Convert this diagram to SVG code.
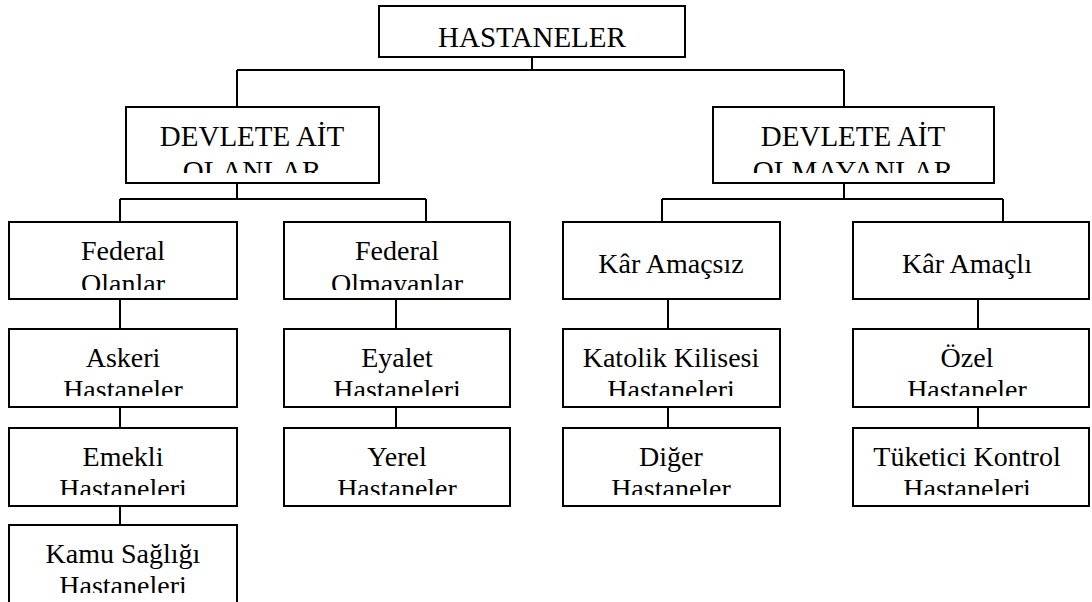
<svg xmlns="http://www.w3.org/2000/svg" width="1092" height="602" viewBox="0 0 1092 602">
<style>
.box{fill:#fff;stroke:#000;stroke-width:2}
.ln{fill:none;stroke:#000;stroke-width:2}
</style>
<defs>
<clipPath id="c0" clipPathUnits="userSpaceOnUse"><rect x="379" y="6" width="306" height="51"/></clipPath>
<clipPath id="c1" clipPathUnits="userSpaceOnUse"><rect x="126" y="107" width="253" height="66"/></clipPath>
<clipPath id="c2" clipPathUnits="userSpaceOnUse"><rect x="713" y="107" width="281" height="66"/></clipPath>
<clipPath id="r3a" clipPathUnits="userSpaceOnUse"><rect x="0" y="222" width="1092" height="68"/></clipPath>
<clipPath id="r4a" clipPathUnits="userSpaceOnUse"><rect x="0" y="329" width="1092" height="67"/></clipPath>
<clipPath id="r5a" clipPathUnits="userSpaceOnUse"><rect x="0" y="428" width="1092" height="67"/></clipPath>
<clipPath id="r6a" clipPathUnits="userSpaceOnUse"><rect x="0" y="525" width="1092" height="68"/></clipPath>
</defs>
<g id="connectors">
<path class="ln" d="M532 57V70M237 70H844M237 70V107M844 70V107"/>
<path class="ln" d="M237 183V199M120 199H426M120 199V222M426 199V222"/>
<path class="ln" d="M844 183V199M662 199H1003M662 199V222M1003 199V222"/>
<path class="ln" d="M120 299V329M120 407V428M120 502V525"/>
<path class="ln" d="M396 299V329M396 407V428"/>
<path class="ln" d="M668 299V329M668 407V428"/>
<path class="ln" d="M978 299V329M978 407V428"/>
</g>
<g id="n-hastaneler">
<rect class="box" x="379" y="6" width="306" height="51"/>
<text style="font-family:'Liberation Serif',serif;font-size:29px" text-anchor="middle" x="532" y="47" clip-path="url(#c0)">HASTANELER</text>
</g>
<g id="n-devlete-ait-olanlar">
<rect class="box" x="126" y="107" width="253" height="76"/>
<text style="font-family:'Liberation Serif',serif;font-size:29px" text-anchor="middle" x="252" y="146" clip-path="url(#c1)">DEVLETE AİT</text>
<text style="font-family:'Liberation Serif',serif;font-size:29px" text-anchor="middle" x="252" y="181" clip-path="url(#c1)">OLANLAR</text>
</g>
<g id="n-devlete-ait-olmayanlar">
<rect class="box" x="713" y="107" width="281" height="76"/>
<text style="font-family:'Liberation Serif',serif;font-size:29px" text-anchor="middle" x="853" y="146" clip-path="url(#c2)">DEVLETE AİT</text>
<text style="font-family:'Liberation Serif',serif;font-size:29px" text-anchor="middle" x="853" y="181" clip-path="url(#c2)">OLMAYANLAR</text>
</g>
<g id="n-federal-olanlar">
<rect class="box" x="9" y="222" width="228" height="77"/>
<text style="font-family:'Liberation Serif',serif;font-size:28px" text-anchor="middle" x="123" y="260" clip-path="url(#r3a)">Federal</text>
<text style="font-family:'Liberation Serif',serif;font-size:28px" text-anchor="middle" x="123" y="293" clip-path="url(#r3a)">Olanlar</text>
</g>
<g id="n-federal-olmayanlar">
<rect class="box" x="284" y="222" width="226" height="77"/>
<text style="font-family:'Liberation Serif',serif;font-size:28px" text-anchor="middle" x="397" y="260" clip-path="url(#r3a)">Federal</text>
<text style="font-family:'Liberation Serif',serif;font-size:28px" text-anchor="middle" x="397" y="293" clip-path="url(#r3a)">Olmayanlar</text>
</g>
<g id="n-kar-amacsiz">
<rect class="box" x="563" y="222" width="217" height="77"/>
<text style="font-family:'Liberation Serif',serif;font-size:28px" text-anchor="middle" x="671" y="273" clip-path="url(#r3a)">Kâr Amaçsız</text>
</g>
<g id="n-kar-amacli">
<rect class="box" x="853" y="222" width="236" height="77"/>
<text style="font-family:'Liberation Serif',serif;font-size:28px" text-anchor="middle" x="967" y="273" clip-path="url(#r3a)">Kâr Amaçlı</text>
</g>
<g id="n-askeri">
<rect class="box" x="9" y="329" width="228" height="78"/>
<text style="font-family:'Liberation Serif',serif;font-size:28px" text-anchor="middle" x="123" y="367" clip-path="url(#r4a)">Askeri</text>
<text style="font-family:'Liberation Serif',serif;font-size:28px" text-anchor="middle" x="123" y="399" clip-path="url(#r4a)">Hastaneler</text>
</g>
<g id="n-eyalet">
<rect class="box" x="284" y="329" width="226" height="78"/>
<text style="font-family:'Liberation Serif',serif;font-size:28px" text-anchor="middle" x="397" y="367" clip-path="url(#r4a)">Eyalet</text>
<text style="font-family:'Liberation Serif',serif;font-size:28px" text-anchor="middle" x="397" y="399" clip-path="url(#r4a)">Hastaneleri</text>
</g>
<g id="n-katolik">
<rect class="box" x="563" y="329" width="217" height="78"/>
<text style="font-family:'Liberation Serif',serif;font-size:28px" text-anchor="middle" x="671" y="367" clip-path="url(#r4a)">Katolik Kilisesi</text>
<text style="font-family:'Liberation Serif',serif;font-size:28px" text-anchor="middle" x="671" y="399" clip-path="url(#r4a)">Hastaneleri</text>
</g>
<g id="n-ozel">
<rect class="box" x="853" y="329" width="236" height="78"/>
<text style="font-family:'Liberation Serif',serif;font-size:28px" text-anchor="middle" x="967" y="367" clip-path="url(#r4a)">Özel</text>
<text style="font-family:'Liberation Serif',serif;font-size:28px" text-anchor="middle" x="967" y="399" clip-path="url(#r4a)">Hastaneler</text>
</g>
<g id="n-emekli">
<rect class="box" x="9" y="428" width="228" height="78"/>
<text style="font-family:'Liberation Serif',serif;font-size:28px" text-anchor="middle" x="123" y="466" clip-path="url(#r5a)">Emekli</text>
<text style="font-family:'Liberation Serif',serif;font-size:28px" text-anchor="middle" x="123" y="498" clip-path="url(#r5a)">Hastaneleri</text>
</g>
<g id="n-yerel">
<rect class="box" x="284" y="428" width="226" height="78"/>
<text style="font-family:'Liberation Serif',serif;font-size:28px" text-anchor="middle" x="397" y="466" clip-path="url(#r5a)">Yerel</text>
<text style="font-family:'Liberation Serif',serif;font-size:28px" text-anchor="middle" x="397" y="498" clip-path="url(#r5a)">Hastaneler</text>
</g>
<g id="n-diger">
<rect class="box" x="563" y="428" width="217" height="78"/>
<text style="font-family:'Liberation Serif',serif;font-size:28px" text-anchor="middle" x="671" y="466" clip-path="url(#r5a)">Diğer</text>
<text style="font-family:'Liberation Serif',serif;font-size:28px" text-anchor="middle" x="671" y="498" clip-path="url(#r5a)">Hastaneler</text>
</g>
<g id="n-tuketici">
<rect class="box" x="853" y="428" width="236" height="78"/>
<text style="font-family:'Liberation Serif',serif;font-size:28px" text-anchor="middle" x="967" y="466" clip-path="url(#r5a)">Tüketici Kontrol</text>
<text style="font-family:'Liberation Serif',serif;font-size:28px" text-anchor="middle" x="967" y="498" clip-path="url(#r5a)">Hastaneleri</text>
</g>
<g id="n-kamu">
<rect class="box" x="9" y="525" width="228" height="90"/>
<text style="font-family:'Liberation Serif',serif;font-size:28px" text-anchor="middle" x="123" y="563" clip-path="url(#r6a)">Kamu Sağlığı</text>
<text style="font-family:'Liberation Serif',serif;font-size:28px" text-anchor="middle" x="123" y="595" clip-path="url(#r6a)">Hastaneleri</text>
</g>
</svg>
